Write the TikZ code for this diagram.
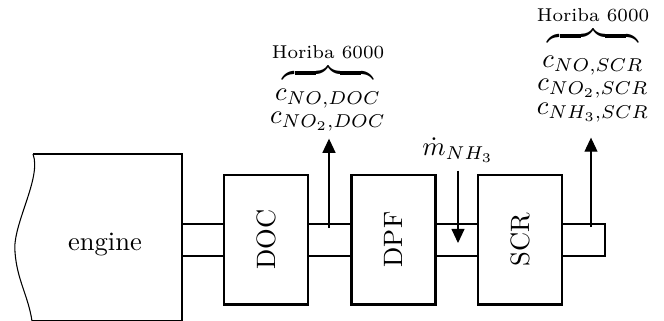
\documentclass[tikz,border=0pt]{standalone}
\usepackage{amsmath}
\usetikzlibrary{arrows.meta}

\begin{document}
\begin{tikzpicture}[x=.3765pt,y=-.3765pt,>={Triangle[length=5.3pt,width=4.9pt]},
  wall/.style={line width=1.1pt},
  part/.style={draw,line width=1.1pt,minimum width=31.6pt,minimum height=48.6pt,inner sep=0pt,outer sep=0pt},
  lab/.style={inner sep=1pt}]
  \useasboundingbox (0,0) rectangle (664,320);
  % engine, cut off on the left
  \draw[wall] (33,154) -- (182,154) -- (182,321) -- (32,321);
  \draw[thin] (33,154) .. controls (42,178) and (12,225) .. (15,252)
    .. controls (17,280) and (28,295) .. (32,321);
  \node (engine) at (105,245) {engine};
  % after-treatment parts
  \foreach \n/\x/\lab in {doc/266/DOC,dpf/393.5/DPF,scr/520/SCR}
    \node[part] (\n) at (\x,239.5) {\rotatebox{90}{\lab}};
  % pipes
  \foreach \a/\b in {182/224,308/351,436/478}
    \draw[wall] (\a,224) -- (\b,224) (\a,256) -- (\b,256);
  \draw[wall] (562,224) -- (605,224) -- (605,256) -- (562,256);
  % measurement after DOC
  \node[inner sep=0pt,anchor=south] (horDoc) at (328,83)
    {$\overbrace{\hspace{34pt}}^{\text{Horiba 6000}}$};
  \node[lab] (noDoc) at (328,99) {$c_{NO,DOC}$};
  \node[lab] (notwoDoc) at (328,122) {$c_{NO_2,DOC}$};
  \coordinate (tapDoc) at (329,228);
  \draw[->,shorten >=1.5pt] (tapDoc) -- (tapDoc |- notwoDoc.south);
  % urea dosing
  \node[lab] (mdot) at (458,150) {$\dot{m}_{NH_3}$};
  \coordinate (dose) at (458,243);
  \draw[->,shorten <=2pt] (mdot.south) -- (dose);
  % measurement after SCR
  \node[inner sep=0pt,anchor=south] (horScr) at (593,46)
    {$\overbrace{\hspace{34pt}}^{\text{Horiba 6000}}$};
  \node[lab] (noScr) at (593,66) {$c_{NO,SCR}$};
  \node[lab] (notwoScr) at (593,89) {$c_{NO_2,SCR}$};
  \node[lab] (nhScr) at (593,113) {$c_{NH_3,SCR}$};
  \coordinate (tapScr) at (591,227);
  \draw[->,shorten >=4.5pt] (tapScr) -- (tapScr |- nhScr.south);
\end{tikzpicture}
\end{document}
